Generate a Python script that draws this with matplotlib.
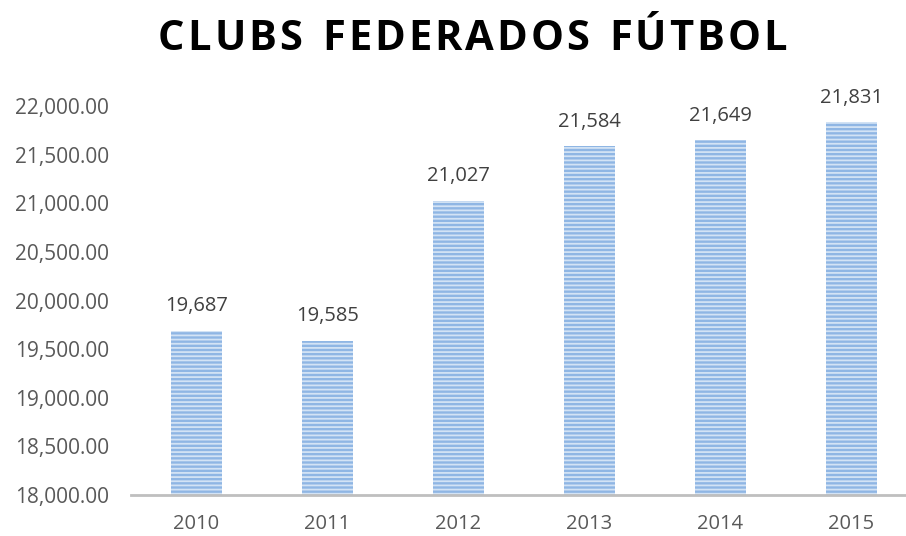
import matplotlib.pyplot as plt

# Data
years = ['2010', '2011', '2012', '2013', '2014', '2015']
clubs = [19687, 19585, 21027, 21584, 21649, 21831]
y_ticks = [18000, 18500, 19000, 19500, 20000, 20500, 21000, 21500, 22000]
title = 'CLUBS FEDERADOS FÚTBOL'

plt.rcParams['font.family'] = ['Open Sans', 'DejaVu Sans']
plt.rcParams['hatch.linewidth'] = 1.3

W, H = 906, 536
fig = plt.figure(figsize=(W / 100, H / 100), dpi=100)
ax = fig.add_axes([131 / W, 41 / H, 786 / W, 389 / H])

x = range(len(years))
ax.bar(x, clubs, width=0.39, color='#8fb6e4',
       edgecolor='#d3e3f5', linewidth=0, hatch='----')

for xi, v in zip(x, clubs):
    ax.text(xi, v + 150, f'{v:,}', ha='center', va='bottom',
            fontsize=14.5, color='#404040', clip_on=False)

ax.set_xlim(-0.5, len(years) - 0.5)
ax.set_ylim(18000, 22000)
ax.set_yticks(y_ticks)
ax.set_yticklabels([f'{t:,.2f}' for t in y_ticks])
ax.set_xticks(list(x))
ax.set_xticklabels(years)
ax.tick_params(axis='both', length=0, labelcolor='#595959')
ax.tick_params(axis='y', pad=16, labelsize=15)
ax.tick_params(axis='x', pad=14, labelsize=14.5)

for s in ['top', 'right', 'left']:
    ax.spines[s].set_visible(False)
ax.spines['bottom'].set_color('#bfbfbf')
ax.spines['bottom'].set_linewidth(2)

# title with letter spacing: place characters one by one
renderer = fig.canvas.get_renderer()
t_left, t_right, t_y = 158, 787, 496
chars = []
widths = []
for ch in title:
    t = fig.text(0, t_y / H, ch if ch != ' ' else 'I', fontsize=30,
                 fontweight='bold', color='black', va='center')
    w = t.get_window_extent(renderer).width
    if ch == ' ':
        t.set_text(' ')
    chars.append(t)
    widths.append(w)
gap = (t_right - t_left - sum(widths)) / (len(title) - 1)
xpos = t_left
for t, w in zip(chars, widths):
    t.set_x(xpos / W)
    xpos += w + gap

fig.savefig('out.png', dpi=100)
